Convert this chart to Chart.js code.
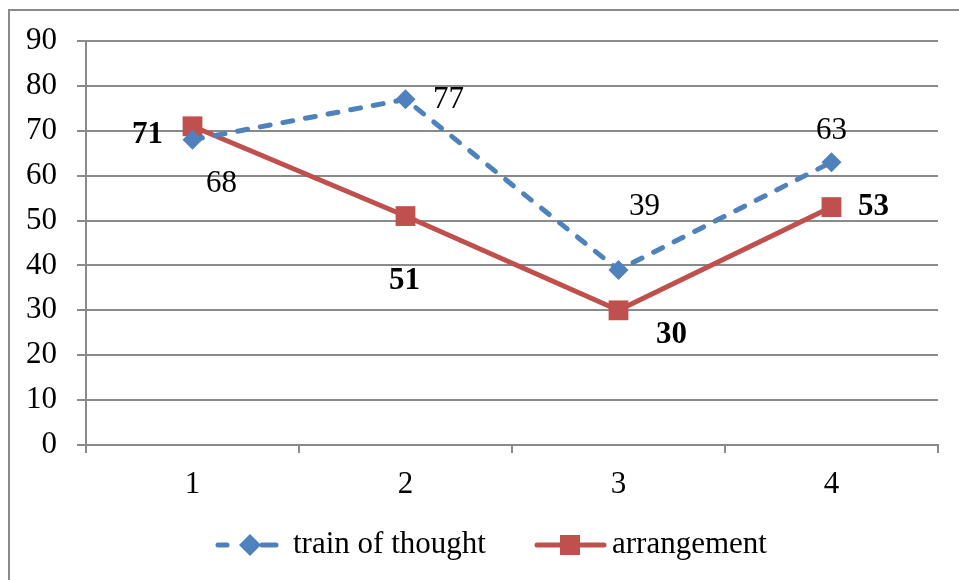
<!DOCTYPE html>
<html>
<head>
<meta charset="utf-8">
<script src="https://cdn.jsdelivr.net/npm/chart.js@4/dist/chart.umd.min.js"></script>
<style>
  html, body { margin: 0; padding: 0; background: #fff; }
  #wrap { width: 959px; height: 580px; }
</style>
</head>
<body>
<div id="wrap"><canvas id="lineChart" width="959" height="580"></canvas></div>
<script>
const categories = ['1', '2', '3', '4'];
const trainOfThought = [68, 77, 39, 63];
const arrangement = [71, 51, 30, 53];
const seriesNames = ['train of thought', 'arrangement'];

const BLUE = '#4F81BD';
const RED = '#C0504D';
const FONT = '"Liberation Serif", "Times New Roman", serif';
const FS = 31;

// value labels + frame + legend drawn by hand
const extrasPlugin = {
    id: 'extras',
    beforeDraw(chart) {
        const ctx = chart.ctx;
        ctx.save();
        ctx.fillStyle = '#fff';
        ctx.fillRect(0, 0, chart.width, chart.height);
        ctx.strokeStyle = '#8a8a8a';
        ctx.lineWidth = 2;
        ctx.strokeRect(9, 10, 1000, 1000);
        ctx.restore();
    },
    afterDatasetsDraw(chart, args, opts) {
        const ctx = chart.ctx;
        ctx.save();
        ctx.textAlign = 'center';
        ctx.textBaseline = 'middle';
        ctx.fillStyle = '#000';
        chart.data.datasets.forEach((ds, i) => {
            const meta = chart.getDatasetMeta(i);
            const offs = opts.offsets[i];
            ctx.font = (opts.bold[i] ? 'bold ' : '') + FS + 'px ' + FONT;
            meta.data.forEach((pt, j) => {
                ctx.fillText(String(ds.data[j]), pt.x + offs[j][0], pt.y + offs[j][1]);
            });
        });

        // legend
        const ly = 545;
        ctx.font = FS + 'px ' + FONT;
        ctx.textAlign = 'left';
        ctx.lineCap = 'round';
        ctx.lineWidth = 5;
        // blue dashed with diamond
        ctx.strokeStyle = BLUE;
        ctx.beginPath();
        ctx.moveTo(218, ly); ctx.lineTo(227, ly);
        ctx.moveTo(262, ly); ctx.lineTo(276, ly);
        ctx.stroke();
        ctx.fillStyle = BLUE;
        ctx.beginPath();
        ctx.moveTo(250, ly - 11); ctx.lineTo(261, ly); ctx.lineTo(250, ly + 11); ctx.lineTo(239, ly);
        ctx.closePath(); ctx.fill();
        ctx.fillStyle = '#000';
        ctx.fillText(seriesNames[0], 293, ly);
        // red solid with square
        ctx.strokeStyle = RED;
        ctx.beginPath();
        ctx.moveTo(537, ly); ctx.lineTo(604, ly);
        ctx.stroke();
        ctx.fillStyle = RED;
        ctx.fillRect(560, ly - 10, 20, 20);
        ctx.fillStyle = '#000';
        ctx.fillText(seriesNames[1], 612, ly);
        ctx.restore();
    }
};

new Chart(document.getElementById('lineChart'), {
    type: 'line',
    data: {
        labels: categories,
        datasets: [{
            label: seriesNames[0],
            data: trainOfThought,
            borderColor: BLUE,
            backgroundColor: BLUE,
            borderWidth: 5,
            borderDash: [10, 13],
            borderCapStyle: 'round',
            pointStyle: 'rectRot',
            pointRadius: 10,
            pointBorderWidth: 0,
            tension: 0
        }, {
            label: seriesNames[1],
            data: arrangement,
            borderColor: RED,
            backgroundColor: RED,
            borderWidth: 5,
            pointStyle: 'rect',
            pointRadius: 14,
            pointBorderWidth: 0,
            tension: 0
        }]
    },
    options: {
        responsive: false,
        animation: false,
        layout: { padding: { top: 41, right: 21, left: 0, bottom: 0 } },
        plugins: {
            legend: { display: false },
            tooltip: { enabled: false },
            extras: {
                bold: [false, true],
                offsets: [
                    [[29, 44], [43, 1], [26, -63], [0, -31]],
                    [[-45, 9], [-1, 65], [53, 25], [42, 0]]
                ]
            }
        },
        scales: {
            x: {
                offset: true,
                grid: { offset: true, drawOnChartArea: false, drawTicks: true, tickLength: 8, color: '#8a8a8a', lineWidth: 2 },
                border: { display: true, color: '#8a8a8a', width: 2 },
                ticks: { color: '#000', font: { family: FONT, size: FS }, padding: 13 },
                afterFit(scale) { scale.height = 135; }
            },
            y: {
                min: 0,
                max: 90,
                ticks: { stepSize: 10, color: '#000', font: { family: FONT, size: FS }, padding: 20 },
                grid: { color: '#8a8a8a', lineWidth: 2, tickLength: 9 },
                border: { display: true, color: '#8a8a8a', width: 2 },
                afterFit(scale) { scale.width = 86; }
            }
        }
    },
    plugins: [extrasPlugin]
});
</script>
</body>
</html>
